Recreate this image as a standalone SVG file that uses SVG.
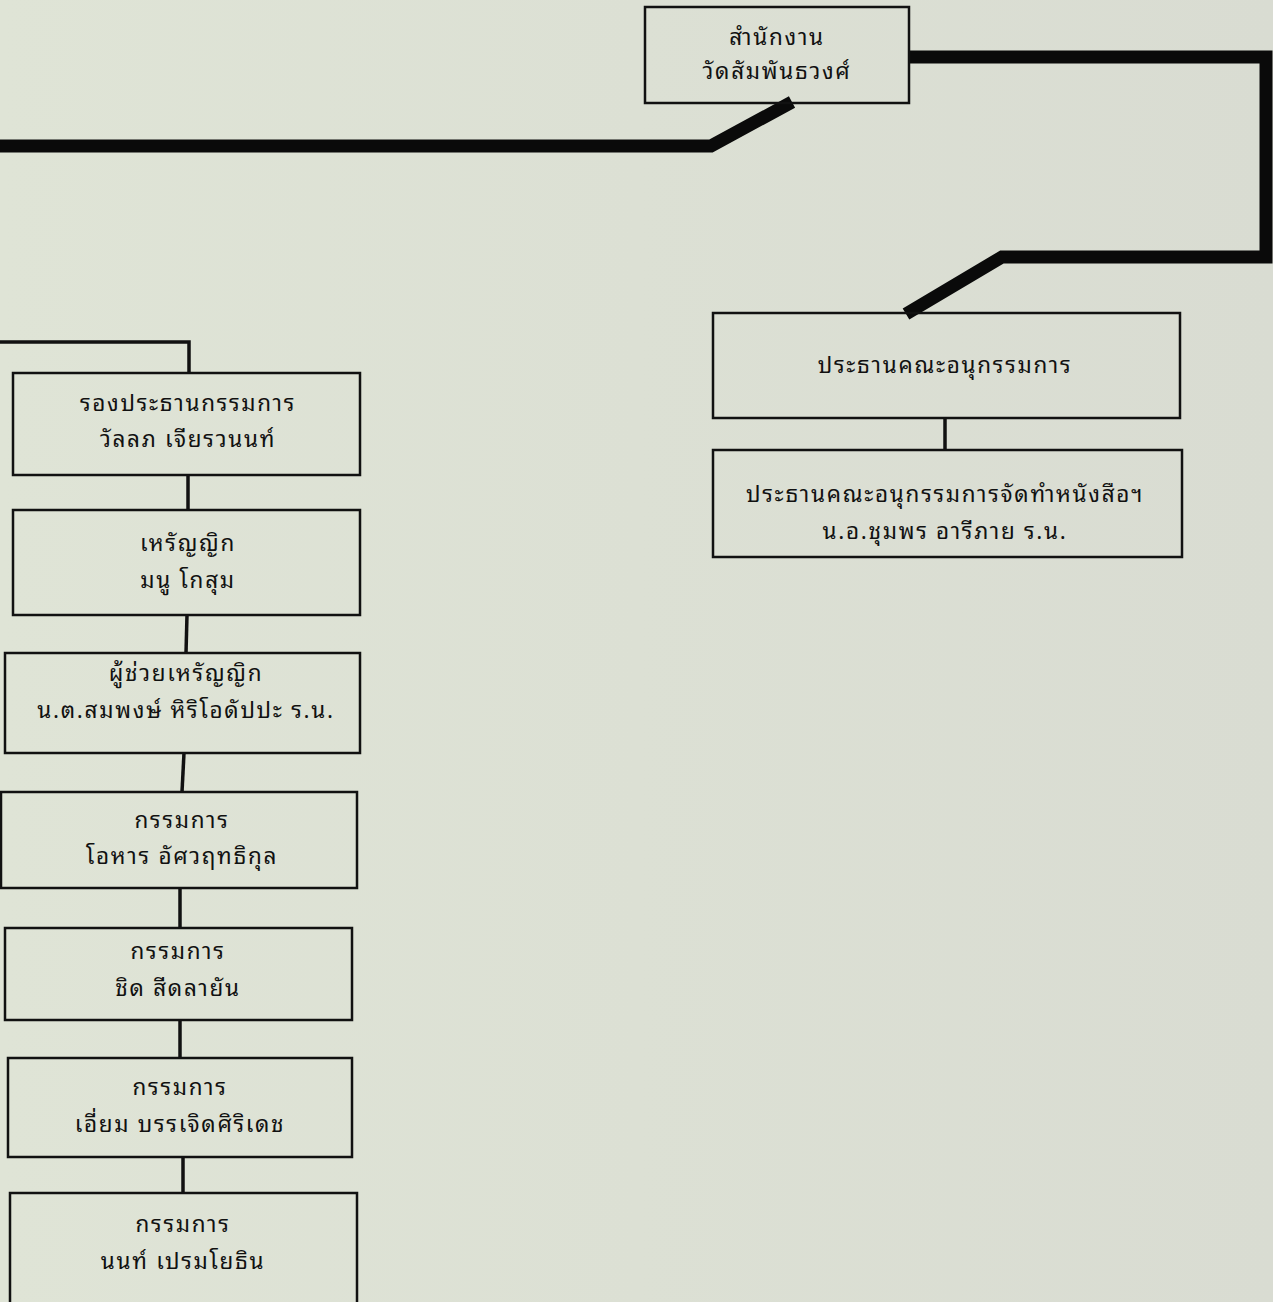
<svg xmlns="http://www.w3.org/2000/svg" width="1273" height="1302" viewBox="0 0 1273 1302">
<defs>
<linearGradient id="bg" x1="0" y1="0" x2="1" y2="0">
<stop offset="0" stop-color="#dfe4d6"/>
<stop offset="1" stop-color="#d9dcd2"/>
</linearGradient>
</defs>
<style>
.box{fill:none;stroke:#111;stroke-width:2.5}
.thick{fill:none;stroke:#0a0a0a;stroke-width:13;stroke-linejoin:miter}
.thin{fill:none;stroke:#111;stroke-width:3.5}
text{font-family:"Tlwg Typo","Noto Sans Thai Looped","Noto Sans Thai","Noto Sans","DejaVu Sans",sans-serif;font-size:22.5px;fill:#111;text-anchor:middle;letter-spacing:1.7px}
</style>
<rect x="0" y="0" width="1273" height="1302" fill="url(#bg)"/>
<g id="connectors">
<polyline class="thick" points="909,57 1266,57 1266,257 1002,257 906,314"/>
<polyline class="thick" points="792,102 711,146 0,146"/>
<line class="thin" x1="945" y1="418" x2="945" y2="450"/>
<polyline class="thin" points="0,342 189,342 189,373"/>
<line class="thin" x1="188" y1="475" x2="188" y2="510"/>
<line class="thin" x1="187" y1="615" x2="186" y2="653"/>
<line class="thin" x1="184" y1="753" x2="182" y2="792"/>
<line class="thin" x1="180" y1="888" x2="180" y2="928"/>
<line class="thin" x1="180" y1="1020" x2="180" y2="1058"/>
<line class="thin" x1="183" y1="1157" x2="183" y2="1193"/>
</g>
<g id="n_office">
<rect class="box" x="645" y="7" width="264" height="96"/>
<text x="777" y="45">สำนักงาน</text>
<text x="777" y="79">วัดสัมพันธวงศ์</text>
</g>
<g id="n_subchair">
<rect class="box" x="713" y="313" width="467" height="105"/>
<text x="945" y="373">ประธานคณะอนุกรรมการ</text>
</g>
<g id="n_bookchair">
<rect class="box" x="713" y="450" width="469" height="107"/>
<text x="945" y="502">ประธานคณะอนุกรรมการจัดทำหนังสือฯ</text>
<text x="945" y="539">น.อ.ชุมพร อารีภาย ร.น.</text>
</g>
<g id="n_vicechair">
<rect class="box" x="13" y="373" width="347" height="102"/>
<text x="188" y="411">รองประธานกรรมการ</text>
<text x="188" y="447">วัลลภ เจียรวนนท์</text>
</g>
<g id="n_treasurer">
<rect class="box" x="13" y="510" width="347" height="105"/>
<text x="188" y="551">เหรัญญิก</text>
<text x="188" y="588">มนู โกสุม</text>
</g>
<g id="n_asst_treasurer">
<rect class="box" x="5" y="653" width="355" height="100"/>
<text x="186" y="681">ผู้ช่วยเหรัญญิก</text>
<text x="186" y="718">น.ต.สมพงษ์ หิริโอดัปปะ ร.น.</text>
</g>
<g id="n_member1">
<rect class="box" x="1" y="792" width="356" height="96"/>
<text x="182" y="828">กรรมการ</text>
<text x="182" y="864">โอหาร อัศวฤทธิกุล</text>
</g>
<g id="n_member2">
<rect class="box" x="5" y="928" width="347" height="92"/>
<text x="178" y="959">กรรมการ</text>
<text x="178" y="996">ชิด สีดลายัน</text>
</g>
<g id="n_member3">
<rect class="box" x="8" y="1058" width="344" height="99"/>
<text x="180" y="1095">กรรมการ</text>
<text x="180" y="1132">เอี่ยม บรรเจิดศิริเดช</text>
</g>
<g id="n_member4">
<rect class="box" x="10" y="1193" width="347" height="115"/>
<text x="183" y="1232">กรรมการ</text>
<text x="183" y="1269">นนท์ เปรมโยธิน</text>
</g>
</svg>
